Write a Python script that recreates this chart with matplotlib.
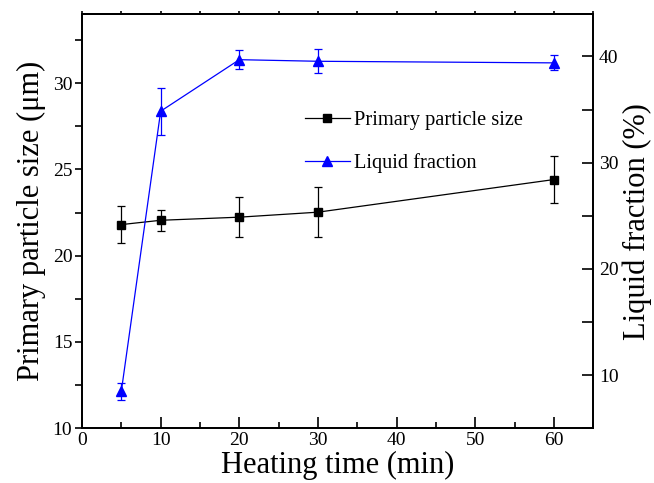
import matplotlib
matplotlib.use("Agg")
import matplotlib.pyplot as plt
from matplotlib.ticker import MultipleLocator, NullFormatter
from matplotlib.lines import Line2D

plt.rcParams['font.family'] = ['Liberation Serif', 'DejaVu Serif']

# heating time (min)
time_min = [5, 10, 20, 30, 60]

# primary particle size (um) with error
size_um = [21.8, 22.05, 22.23, 22.52, 24.41]
size_err = [1.07, 0.6, 1.17, 1.44, 1.36]

# liquid fraction (%) with error
liquid_pct = [8.5, 34.85, 39.7, 39.55, 39.4]
liquid_err = [0.8, 2.2, 0.9, 1.15, 0.7]

fig = plt.figure(figsize=(6.54, 4.83), dpi=100)
ax = fig.add_axes([0.1254, 0.1133, 0.7818, 0.8577])
ax2 = ax.twinx()

ax.errorbar(time_min, size_um, yerr=size_err, color='black', marker='s',
            markersize=6, lw=0.9, elinewidth=0.9, capsize=3, capthick=0.9,
            zorder=3)
ax2.errorbar(time_min, liquid_pct, yerr=liquid_err, color='#0000FF', marker='^',
             markersize=7.5, lw=0.9, elinewidth=0.9, capsize=3, capthick=0.9,
             zorder=3)

ax.set_xlim(0, 65)
ax.set_ylim(10, 34)
ax2.set_ylim(5, 44)

ax.xaxis.set_major_locator(MultipleLocator(10))
ax.xaxis.set_minor_locator(MultipleLocator(5))
ax.yaxis.set_major_locator(MultipleLocator(5))
ax.yaxis.set_minor_locator(MultipleLocator(2.5))
ax2.yaxis.set_major_locator(MultipleLocator(10))
ax2.yaxis.set_minor_locator(MultipleLocator(5))

ax.tick_params(axis='x', which='major', direction='in', length=8, width=1.2,
               labelsize=14, pad=3)
ax.tick_params(axis='x', which='minor', direction='in', length=4, width=1.2)
ax.tick_params(axis='y', which='major', direction='out', length=5, width=1.2,
               labelsize=14, pad=2)
ax.tick_params(axis='y', which='minor', direction='out', length=5, width=1.2)
ax2.tick_params(axis='y', which='both', direction='in', length=8, width=1.2,
                labelsize=14, pad=4)

# short outward ticks on the top edge
top = ax.secondary_xaxis('top')
top.xaxis.set_major_locator(MultipleLocator(5))
top.xaxis.set_major_formatter(NullFormatter())
top.tick_params(direction='out', length=2.5, width=1.2)
top.spines['top'].set_linewidth(1.3)

for a in (ax, ax2):
    for sp in a.spines.values():
        sp.set_linewidth(1.3)

ax.set_xlabel('Heating time (min)', fontsize=22, labelpad=1)
ax.set_ylabel('Primary particle size (μm)', fontsize=22, labelpad=5)
ax2.set_ylabel('Liquid fraction (%)', fontsize=22, labelpad=3)

handles = [
    Line2D([], [], color='black', marker='s', markersize=6, lw=0.9),
    Line2D([], [], color='#0000FF', marker='^', markersize=7.5, lw=0.9),
]
ax.legend(handles, ['Primary particle size', 'Liquid fraction'],
          loc='upper left', bbox_to_anchor=(0.40, 0.81), frameon=False,
          fontsize=14.7, handlelength=2.2, handletextpad=0.2, labelspacing=1.1)

fig.savefig('out.png', dpi=100)
